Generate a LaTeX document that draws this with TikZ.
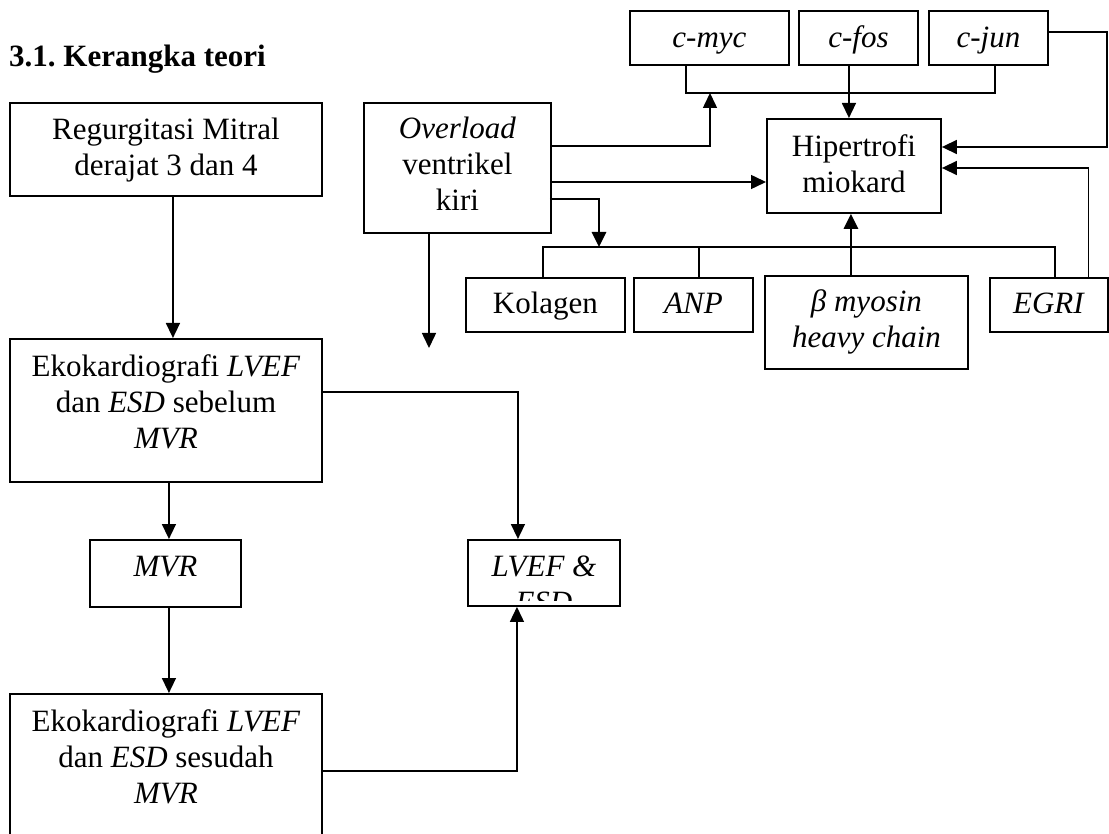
\documentclass[tikz,border=0pt]{standalone}
\usepackage{fontspec}
\setmainfont{Liberation Serif}
\usetikzlibrary{arrows.meta,calc}
\tikzset{
  box/.style={draw, line width=1.9pt, inner sep=0pt, anchor=north west},
  txt/.style={inner sep=0pt, align=center, anchor=north, font=\fontsize{31}{36}\selectfont},
  conn/.style={line width=1.5pt},
  arr/.style={conn, -{Triangle[width=14pt,length=15pt]}},
  thickline/.style={line width=2.8pt},
  thickarr/.style={line width=2.8pt, -{Triangle[width=14pt,length=15pt]}},
}
\begin{document}
\frenchspacing
\begin{tikzpicture}[x=1pt,y=-1pt]
\path[use as bounding box, clip] (0,0) rectangle (1109,834);
\fill[white] (0,0) rectangle (1109,834);

% title
\node[anchor=base west, inner sep=0pt, font=\fontsize{31}{36}\selectfont\bfseries] (title) at (9,67) {3.1. Kerangka teori};

% boxes
\node[box, minimum width=312pt, minimum height=93pt]  (reg)  at (9,102) {};
\node[box, minimum width=187pt, minimum height=130pt] (ov)   at (363,102) {};
\node[box, minimum width=159pt, minimum height=54pt]  (myc)  at (629,10) {};
\node[box, minimum width=119pt, minimum height=54pt]  (fos)  at (798,10) {};
\node[box, minimum width=119pt, minimum height=54pt]  (jun)  at (928,10) {};
\node[box, minimum width=174pt, minimum height=94pt]  (hip)  at (766,118) {};
\node[box, minimum width=159pt, minimum height=54pt]  (kol)  at (465,277) {};
\node[box, minimum width=119pt, minimum height=54pt]  (anp)  at (633,277) {};
\node[box, minimum width=203pt, minimum height=93pt]  (beta) at (764,275) {};
\node[box, minimum width=118pt, minimum height=54pt]  (egri) at (989,277) {};
\node[box, minimum width=312pt, minimum height=143pt] (eko1) at (9,338) {};
\node[box, minimum width=151pt, minimum height=67pt]  (mvr)  at (89,539) {};
\node[box, minimum width=152pt, minimum height=66pt]  (lv)   at (467,539) {};
\node[box, minimum width=312pt, minimum height=170pt] (eko2) at (9,693) {};

% texts
\node[txt] (regt)  at ([yshift=-12pt]reg.north)  {\strut Regurgitasi Mitral\\derajat 3 dan 4};
\node[txt] (ovt)   at ([yshift=-11pt]ov.north)   {\strut\textit{Overload}\\ventrikel\\kiri};
\node[txt] (myct)  at ([yshift=-12.5pt]myc.north)  {\strut\textit{c-myc}};
\node[txt] (fost)  at ([yshift=-12.5pt]fos.north)  {\strut\textit{c-fos}};
\node[txt] (junt)  at ([yshift=-12.5pt]jun.north)  {\strut\textit{c-jun}};
\node[txt] (hipt)  at ([yshift=-13pt]hip.north)  {\strut Hipertrofi\\miokard};
\node[txt] (kolt)  at ([yshift=-11pt]kol.north)  {\strut Kolagen};
\node[txt] (anpt)  at ([yshift=-11pt]anp.north)  {\strut\textit{ANP}};
\node[txt] (betat) at ([yshift=-11.5pt]beta.north) {\strut\textit{β myosin}\\\textit{heavy chain}};
\node[txt] (egrit) at ([yshift=-11pt]egri.north) {\strut\textit{EGRI}};
\node[txt] (eko1t) at ([yshift=-13.5pt]eko1.north) {\strut Ekokardiografi \textit{LVEF}\\dan \textit{ESD} sebelum\\\textit{MVR}};
\node[txt] (mvrt)  at ([yshift=-12.5pt]mvr.north)  {\strut\textit{MVR}};
\begin{scope}
  \clip (lv.north west) rectangle ([yshift=6pt]lv.south east);
  \node[txt] (lvt) at ([yshift=-12.5pt]lv.north) {\strut\textit{LVEF \&}\\\textit{ESD}};
\end{scope}
\node[txt] (eko2t) at ([yshift=-13.5pt]eko2.north) {\strut Ekokardiografi \textit{LVEF}\\dan \textit{ESD} sesudah\\\textit{MVR}};

% coordinates
\coordinate (ovend) at (429,348);
\coordinate (tbL) at (686,93);
\coordinate (tbR) at (995,93);
\coordinate (tbA) at (710,93);
\coordinate (bbL) at (543,247);
\coordinate (bbR) at (1055,247);
\coordinate (bbA) at (599,247);
\coordinate (jc)  at (1107,147);

% left column
\draw[arr] ([xshift=7pt]reg.south) -- ([xshift=7pt]reg.south |- eko1.north);
\draw[arr] ([xshift=3.5pt]mvr.north |- eko1.south) -- ([xshift=3.5pt]mvr.north);
\draw[arr] ([xshift=3.5pt]mvr.south) -- ([xshift=3.5pt]mvr.south |- eko2.north);
\draw[arr] ([yshift=-54pt]eko1.north east) -| ([xshift=-26pt]lv.north);
\draw[arr] ([yshift=-78pt]eko2.north east) -| ([xshift=-27pt]lv.south);

% overload
\draw[arr] (ov.south -| ovend) -- (ovend);
\draw[arr] ([yshift=-44pt]ov.north east) -| (tbA);
\draw[arr] ([yshift=-80pt]ov.north east) -- ([yshift=-80pt]ov.north east -| hip.west);
\draw[thickarr] ([xshift=-2pt,yshift=-97pt]ov.north east) -| (bbA);

% top bus
\draw[conn] (myc.south -| tbL) -- (tbL) -- (tbR) -- (jun.south -| tbR);
\draw[arr] ([xshift=-9.5pt]fos.south) -- ([xshift=-9.5pt]fos.south |- hip.north);
\draw[arr] ([yshift=-22pt]jun.north east) -| (jc) -- (jc -| hip.east);

% bottom bus
\draw[conn] (kol.north -| bbL) -- (bbL) -- (bbR) -- (egri.north -| bbR);
\draw[conn] ([xshift=5.5pt]anp.north) -- ([xshift=5.5pt]anp.north |- bbL);
\draw[thickarr] ([xshift=-15.5pt]beta.north) -- ([xshift=-15.5pt]beta.north |- hip.south);
\draw[arr] ([xshift=39.5pt]egri.north) |- ([yshift=-50pt]hip.north east);
\end{tikzpicture}
\end{document}
